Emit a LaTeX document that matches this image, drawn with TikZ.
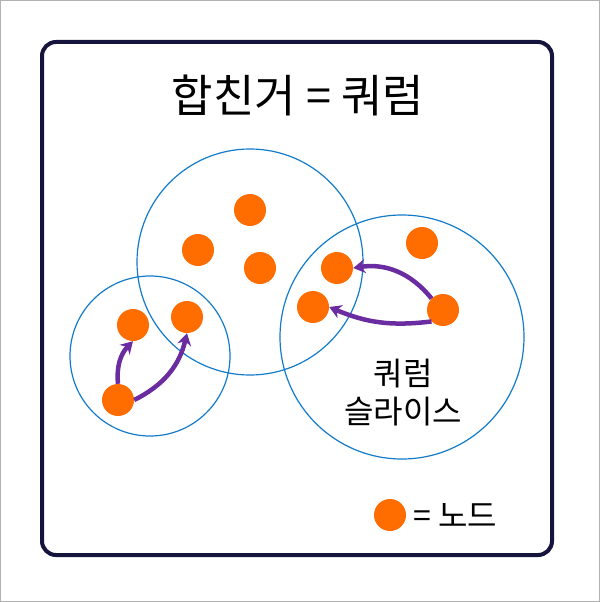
\documentclass[tikz,border=0pt]{standalone}
\usepackage{fontspec}
\newfontfamily\cjk{Noto Sans CJK KR}
\usetikzlibrary{arrows.meta}
\definecolor{parrc}{RGB}{106,44,160}
\begin{document}
\begin{tikzpicture}[x=1pt,y=-1pt,
  dot/.style={circle,fill=orange!85!red,minimum size=32pt,inner sep=0pt},
  ring/.style={draw=cyan!60!blue,line width=1.2pt},
  parr/.style={draw=parrc,line width=4.5pt,-{Stealth[length=12pt,width=14pt]}}]
\useasboundingbox (0,0) rectangle (600,602);
\draw[gray!60,line width=1pt] (0.5,0.5) rectangle (599.5,601.5);
\draw[draw={rgb,255:red,20;green,20;blue,60},line width=4pt,rounded corners=14pt] (42,42) rectangle (552,555);
\node[font=\cjk\fontsize{45}{50}\selectfont] (t) at (298,95) {합친거 = 쿼럼};
\draw[ring] (150,356) circle (80);
\draw[ring] (250,262) circle (113);
\draw[ring] (402,337) circle (122);
\node[dot] (a) at (250,210) {};
\node[dot] (b) at (198,250) {};
\node[dot] (c) at (260,268) {};
\node[dot] (d) at (422,243) {};
\node[dot] (e) at (337,268) {};
\node[dot] (f) at (313,307) {};
\node[dot] (g) at (443,310) {};
\node[dot] (h) at (133,325) {};
\node[dot] (i) at (187,317) {};
\node[dot] (j) at (118,400) {};
\node[dot] (leg) at (390,515) {};
\node[anchor=west,font=\cjk\fontsize{32}{36}\selectfont] (lt) at (410,515) {= 노드};
\node[align=center,font=\cjk\fontsize{32}{38}\selectfont] (q) at (403,393) {쿼럼\\슬라이스};
\draw[parr] (j.north) to[bend left=25] (h.south);
\draw[parr] (j.east) to[bend right=25] (i.south);
\draw[parr] (g.north west) to[bend right=30] (e.east);
\draw[parr] (g.south west) to[bend left=15] (f.east);
\end{tikzpicture}
\end{document}
